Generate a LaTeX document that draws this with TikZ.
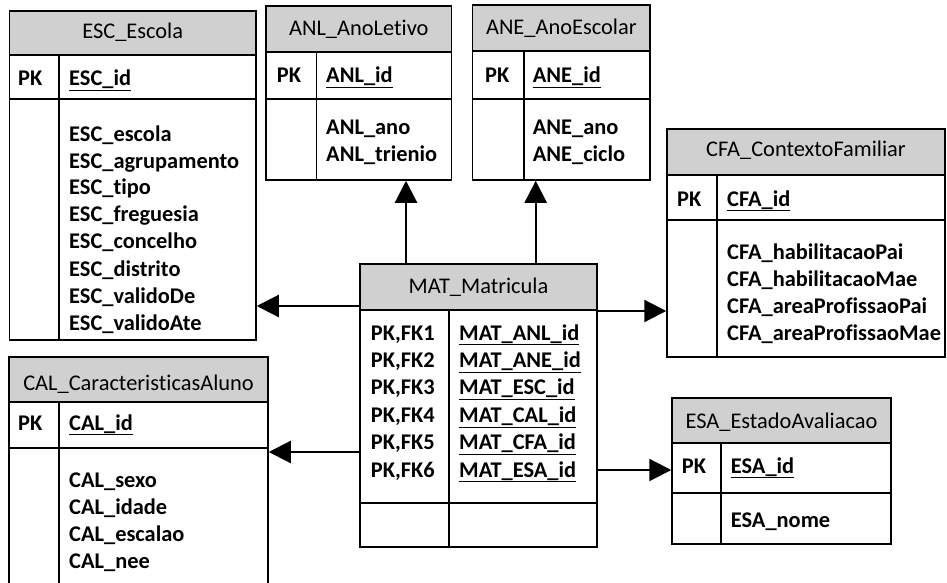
\documentclass[tikz,border=0pt]{standalone}
\usepackage{fontspec}
\setmainfont{Carlito}[Ligatures={NoCommon,NoDiscretionary,NoContextual}]
\usetikzlibrary{arrows.meta,fit}
\definecolor{headgray}{RGB}{208,208,208}
\tikzset{
  frame/.style={draw, line width=1.5pt, inner sep=0pt},
  headbox/.style={frame, fill=headgray},
  rule/.style={line width=1.5pt},
  htext/.style={anchor=base, inner sep=0pt, font=\fontsize{22.4}{27}\selectfont},
  ktext/.style={anchor=base west, inner sep=0pt, font=\fontsize{22.4}{27}\selectfont\bfseries},
  link/.style={line width=2.2pt, -{Triangle[length=22pt,width=22pt]}},
}
\newcommand{\attrlist}[1]{\begin{tabular}[t]{@{}l@{}}#1\end{tabular}}
\begin{document}
\begin{tikzpicture}[x=1pt,y=-1pt]
\useasboundingbox (0,0) rectangle (947,583);

% ---------- ESC_Escola ----------
\node[headbox, fit={(9.5,11) (256,55)}] (escH) {};
\node[frame, fit={(9.5,55) (256,99)}] (escK) {};
\node[frame, fit={(9.5,99) (256,340)}] (escB) {};
\draw[rule] (59,55) -- (59,340);
\node[htext] (escT) at (132.7,39) {ESC\_Escola};
\node[ktext] (escPK) at (18,86) {PK};
\node[ktext] (escId) at (69,86) {\underline{ESC\_id}};
\node[ktext] (escA) at (69,141) {\attrlist{ESC\_escola\\ESC\_agrupamento\\ESC\_tipo\\ESC\_freguesia\\ESC\_concelho\\ESC\_distrito\\ESC\_validoDe\\ESC\_validoAte}};

% ---------- ANL_AnoLetivo ----------
\node[headbox, fit={(266,6) (451.7,52)}] (anlH) {};
\node[frame, fit={(266,52) (451.7,99)}] (anlK) {};
\node[frame, fit={(266,99) (451.7,180)}] (anlB) {};
\draw[rule] (316.7,52) -- (316.7,180);
\node[htext] (anlT) at (358.8,36) {ANL\_AnoLetivo};
\node[ktext] (anlPK) at (276.7,83) {PK};
\node[ktext] (anlId) at (326,83) {\underline{ANL\_id}};
\node[ktext] (anlA) at (326,135) {\attrlist{ANL\_ano\\ANL\_trienio}};

% ---------- ANE_AnoEscolar ----------
\node[headbox, fit={(472.7,5) (650,51)}] (aneH) {};
\node[frame, fit={(472.7,51) (650,99)}] (aneK) {};
\node[frame, fit={(472.7,99) (650,180)}] (aneB) {};
\draw[rule] (524,51) -- (524,180);
\node[htext] (aneT) at (561.3,35) {ANE\_AnoEscolar};
\node[ktext] (anePK) at (485,83) {PK};
\node[ktext] (aneId) at (532.7,83) {\underline{ANE\_id}};
\node[ktext] (aneA) at (532.7,135) {\attrlist{ANE\_ano\\ANE\_ciclo}};

% ---------- CFA_ContextoFamiliar ----------
\node[headbox, fit={(667,129) (945,175)}] (cfaH) {};
\node[frame, fit={(667,175) (945,220)}] (cfaK) {};
\node[frame, fit={(667,220) (945,357)}] (cfaB) {};
\draw[rule] (717,175) -- (717,357);
\node[htext] (cfaT) at (806,156) {CFA\_ContextoFamiliar};
\node[ktext] (cfaPK) at (677,206) {PK};
\node[ktext] (cfaId) at (727,206) {\underline{CFA\_id}};
\node[ktext] (cfaA) at (727,259) {\attrlist{CFA\_habilitacaoPai\\CFA\_habilitacaoMae\\CFA\_areaProfissaoPai\\CFA\_areaProfissaoMae}};

% ---------- CAL_CaracteristicasAluno (runs off the lower edge) ----------
\node[headbox, fit={(9,357) (268,402)}] (calH) {};
\node[frame, fit={(9,402) (268,448)}] (calK) {};
\node[frame, fit={(9,448) (268,600)}] (calB) {};
\draw[rule] (59,402) -- (59,600);
\node[htext] (calT) at (138.5,390) {CAL\_CaracteristicasAluno};
\node[ktext] (calPK) at (18,430) {PK};
\node[ktext] (calId) at (69,430) {\underline{CAL\_id}};
\node[ktext] (calA) at (69,487) {\attrlist{CAL\_sexo\\CAL\_idade\\CAL\_escalao\\CAL\_nee}};

% ---------- MAT_Matricula ----------
\node[headbox, fit={(360,264) (597,310)}] (matH) {};
\node[frame, fit={(360,310) (597,503)}] (matK) {};
\node[frame, fit={(360,503) (597,547)}] (matB) {};
\draw[rule] (449,310) -- (449,547);
\node[htext] (matT) at (478.5,293) {MAT\_Matricula};
\node[ktext] (matPK) at (370.7,340) {\fontsize{22.4}{27.4}\selectfont\attrlist{PK,FK1\\PK,FK2\\PK,FK3\\PK,FK4\\PK,FK5\\PK,FK6}};
\node[ktext] (matA) at (459,340) {\fontsize{22.4}{27.4}\selectfont\attrlist{\underline{MAT\_ANL\_id}\\\underline{MAT\_ANE\_id}\\\underline{MAT\_ESC\_id}\\\underline{MAT\_CAL\_id}\\\underline{MAT\_CFA\_id}\\\underline{MAT\_ESA\_id}}};

% ---------- ESA_EstadoAvaliacao ----------
\node[headbox, fit={(672,398) (891,443)}] (esaH) {};
\node[frame, fit={(672,443) (891,493)}] (esaK) {};
\node[frame, fit={(672,493) (891,544)}] (esaB) {};
\draw[rule] (721,443) -- (721,544);
\node[htext] (esaT) at (781.5,428) {ESA\_EstadoAvaliacao};
\node[ktext] (esaPK) at (681.7,473) {PK};
\node[ktext] (esaId) at (730.7,473) {\underline{ESA\_id}};
\node[ktext] (esaA) at (730.7,527) {ESA\_nome};

% ---------- relationships ----------
\coordinate (pAnl) at (406,264);
\coordinate (pAne) at (535.7,264);
\coordinate (pEsc) at (360,306);
\coordinate (pCal) at (360,452);
\coordinate (pCfa) at (597,311);
\coordinate (pEsa) at (597,470);
\draw[link] (pAnl) -- (pAnl |- anlB.south);
\draw[link] (pAne) -- (pAne |- aneB.south);
\draw[link] (pEsc) -- (pEsc -| escB.east);
\draw[link] (pCal) -- (pCal -| calB.east);
\draw[link] (pCfa) -- (pCfa -| cfaB.west);
\draw[link] (pEsa) -- (pEsa -| esaK.west);
\end{tikzpicture}
\end{document}
